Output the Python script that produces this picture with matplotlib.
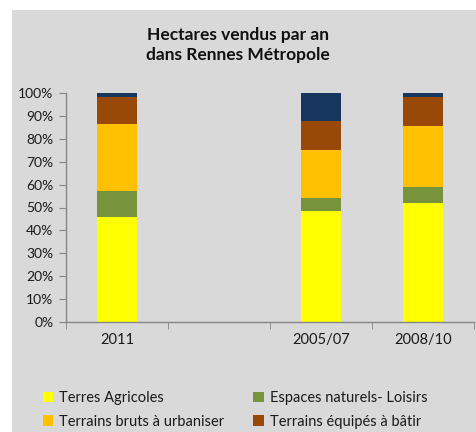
import matplotlib
matplotlib.use("Agg")
import matplotlib.pyplot as plt
from matplotlib.patches import Rectangle
import numpy as np

categories = ["2011", "", "2005/07", "2008/10"]
series_names = ["Terres Agricoles", "Espaces naturels- Loisirs",
                "Terrains bruts à urbaniser", "Terrains équipés à bâtir", "Autres"]
terres = [45.7, 0, 48.6, 51.8]
espaces = [11.4, 0, 5.6, 7.3]
bruts = [29.3, 0, 21.1, 26.4]
equipes = [11.8, 0, 12.4, 12.7]
autres = [1.8, 0, 12.3, 1.8]
colors = ["#FFFF00", "#77933C", "#FFC000", "#984807", "#17375E"]
yticks = [0, 10, 20, 30, 40, 50, 60, 70, 80, 90, 100]

plt.rcParams['font.family'] = ['Lato', 'DejaVu Sans']

fig = plt.figure(figsize=(4.76, 4.32), dpi=100)
fig.patch.set_facecolor("white")
fig.patches.append(Rectangle((12/476, 0), 1 - 12/476, 1 - 10/432,
                             transform=fig.transFigure, facecolor="#D9D9D9",
                             edgecolor="none", zorder=-10))

ax = fig.add_axes([66/476, 1 - 322/432, (474 - 66)/476, (322 - 93)/432])
ax.set_facecolor("none")

x = np.arange(len(categories))
data = [terres, espaces, bruts, equipes, autres]
bottom = np.zeros(len(categories))
containers = []
for vals, c, name in zip(data, colors, series_names):
    bc = ax.bar(x, vals, width=0.40, bottom=bottom, color=c, label=name,
                edgecolor="none")
    containers.append(bc)
    bottom += np.array(vals)

ax.set_xlim(-0.5, len(categories) - 0.5)
ax.set_ylim(0, 100)
ax.set_yticks(yticks)
ax.set_yticklabels([f"{v}%" for v in yticks], fontsize=10, color="#1a1a1a")
ax.set_xticks(x)
ax.set_xticklabels(categories, fontsize=10.5, color="#1a1a1a")
ax.set_xticks(np.arange(len(categories) + 1) - 0.5, minor=True)
ax.tick_params(axis="x", which="major", length=0, pad=8)
ax.tick_params(axis="x", which="minor", length=5, color="#868686")
ax.tick_params(axis="y", length=5, color="#868686", pad=4)
for s in ["top", "right"]:
    ax.spines[s].set_visible(False)
for s in ["left", "bottom"]:
    ax.spines[s].set_color("#868686")
    ax.spines[s].set_linewidth(1)

fig.text(238/476, 1 - 45/432, "Hectares vendus par an\ndans Rennes Métropole",
         ha="center", va="center", fontsize=12.5, fontweight="bold",
         linespacing=1.3, color="#111111")

order = [0, 2, 1, 3]
handles = [containers[i] for i in order]
labels = [series_names[i] for i in order]
fig.legend(handles, labels, ncol=2, loc="upper left",
           bbox_to_anchor=(30/476, 1 - 378/432), frameon=False,
           fontsize=10.5, handlelength=0.7, handleheight=0.7,
           handletextpad=0.4, columnspacing=2.0, labelspacing=0.65,
           labelcolor="#1a1a1a")

fig.savefig("out.png", dpi=100)
